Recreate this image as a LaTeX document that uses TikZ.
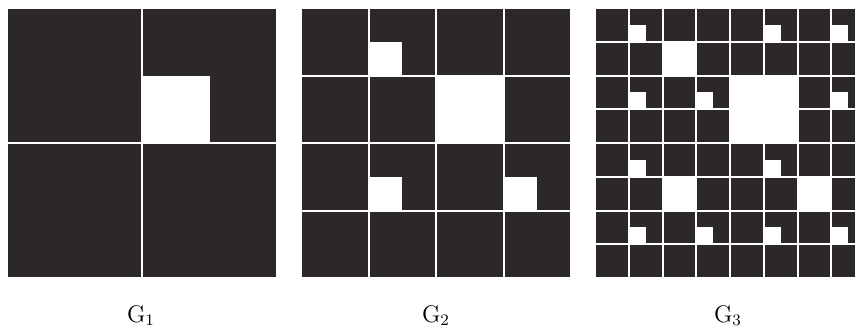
\documentclass[tikz,border=0pt]{standalone}
\usepackage{amsmath,amssymb}
\usepackage{xcolor}
\usepackage{tikz}
\definecolor{tile}{RGB}{44,40,41}

\begin{document}
\begin{tikzpicture}[x=0.5pt, y=-0.5pt,
	cell/.style={fill=tile, draw=none},
	hole/.style={fill=white, draw=none},
	caption/.style={font=\fontsize{11.5}{13}\selectfont, anchor=base, inner sep=0}
]
\useasboundingbox (0,0) rectangle (855,327);
\clip (0,0) rectangle (855,327);

%G1
\begin{scope}[shift={(8,9)}]
\foreach \r in {0,1} \foreach \c in {0,1}
	\fill[cell] ({\c*135},{\r*135}) rectangle ++(133,133);
\fill[hole] (135,66.5) rectangle ++(66.5,66.5);
\end{scope}

%G2
\begin{scope}[shift={(302,9)}]
\foreach \r in {0,...,3} \foreach \c in {0,...,3}
	\fill[cell] ({\c*67.5},{\r*67.5}) rectangle ++(65.5,65.5);
\fill[hole] ({2*67.5},{1*67.5}) rectangle ++(65.5,65.5);
\foreach \r/\c in {0/1,2/1,2/3}
	\fill[hole] ({\c*67.5},{\r*67.5+32.75}) rectangle ++(32.75,32.75);
\end{scope}

%G3
\begin{scope}[shift={(596,9)}]
\foreach \r in {0,...,7} \foreach \c in {0,...,7}
	\fill[cell] ({\c*33.75},{\r*33.75}) rectangle ++(31.75,31.75);
\fill[hole] ({4*33.75},{2*33.75}) rectangle ++(65.5,65.5);
\foreach \r/\c in {1/2,5/2,5/6}
	\fill[hole] ({\c*33.75},{\r*33.75}) rectangle ++(31.75,31.75);
\foreach \r/\c in {0/1,0/5,0/7,2/1,2/3,2/7,4/1,4/5,6/1,6/3,6/5,6/7}
	\fill[hole] ({\c*33.75},{\r*33.75+15.875}) rectangle ++(15.875,15.875);
\end{scope}

\node[caption] (g1) at (141,322) {$\mathrm{G}_1$};
\node[caption] (g2) at (436,322) {$\mathrm{G}_2$};
\node[caption] (g3) at (728,322) {$\mathrm{G}_3$};
\end{tikzpicture}
\end{document}
